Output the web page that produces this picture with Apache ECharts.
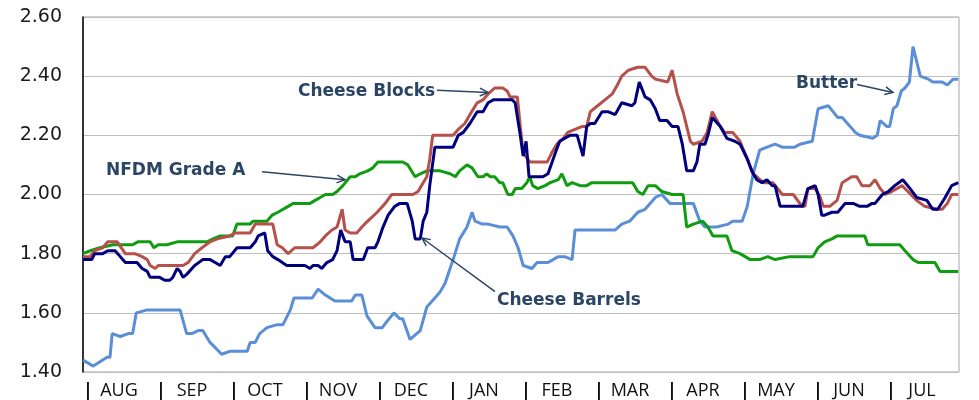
<!DOCTYPE html>
<html>
<head>
<meta charset="utf-8">
<script src="https://cdn.jsdelivr.net/npm/echarts@6/dist/echarts.min.js"></script>
<style>html,body{margin:0;padding:0;background:#fff}#c{width:979px;height:400px}</style>
</head>
<body>
<div id="c"></div>
<script>
// x = months elapsed since start of August (0..12)
const months = ['AUG','SEP','OCT','NOV','DEC','JAN','FEB','MAR','APR','MAY','JUN','JUL'];
const yTicks = [1.40, 1.60, 1.80, 2.00, 2.20, 2.40, 2.60];

const butter = [[0.00,1.44],[0.14,1.42],[0.33,1.45],[0.37,1.45],[0.40,1.53],[0.51,1.52],[0.62,1.53],[0.68,1.53],[0.73,1.60],[0.88,1.61],[1.33,1.61],[1.42,1.53],[1.49,1.53],[1.58,1.54],[1.64,1.54],[1.74,1.50],[1.90,1.46],[2.01,1.47],[2.25,1.47],[2.29,1.50],[2.36,1.50],[2.42,1.53],[2.52,1.55],[2.66,1.56],[2.74,1.56],[2.84,1.61],[2.89,1.65],[3.14,1.65],[3.22,1.68],[3.32,1.66],[3.45,1.64],[3.68,1.64],[3.73,1.66],[3.82,1.66],[3.89,1.59],[4.00,1.55],[4.10,1.55],[4.16,1.57],[4.26,1.60],[4.34,1.58],[4.38,1.58],[4.48,1.51],[4.62,1.54],[4.71,1.62],[4.82,1.65],[4.89,1.67],[4.96,1.70],[5.07,1.78],[5.16,1.85],[5.26,1.89],[5.33,1.94],[5.37,1.91],[5.47,1.90],[5.55,1.90],[5.71,1.89],[5.81,1.89],[5.89,1.86],[5.96,1.82],[6.03,1.76],[6.15,1.75],[6.22,1.77],[6.37,1.77],[6.51,1.79],[6.60,1.79],[6.70,1.78],[6.74,1.88],[7.01,1.88],[7.29,1.88],[7.38,1.90],[7.49,1.91],[7.60,1.94],[7.70,1.95],[7.84,1.99],[7.93,2.00],[8.04,1.97],[8.36,1.97],[8.45,1.91],[8.52,1.89],[8.68,1.89],[8.84,1.90],[8.90,1.91],[9.03,1.91],[9.10,1.96],[9.18,2.07],[9.27,2.15],[9.37,2.16],[9.48,2.17],[9.58,2.16],[9.75,2.16],[9.82,2.17],[9.99,2.18],[10.07,2.29],[10.21,2.30],[10.34,2.26],[10.40,2.26],[10.58,2.21],[10.64,2.20],[10.82,2.19],[10.88,2.20],[10.92,2.25],[11.01,2.23],[11.05,2.23],[11.10,2.29],[11.15,2.30],[11.21,2.35],[11.26,2.36],[11.32,2.38],[11.37,2.50],[11.42,2.45],[11.47,2.40],[11.58,2.39],[11.64,2.38],[11.77,2.38],[11.84,2.37],[11.92,2.39],[11.99,2.39]];

const nfdm = [[0.00,1.80],[0.10,1.81],[0.23,1.82],[0.41,1.83],[0.68,1.83],[0.75,1.84],[0.92,1.84],[0.97,1.82],[1.03,1.83],[1.15,1.83],[1.29,1.84],[1.70,1.84],[1.78,1.85],[1.88,1.86],[2.05,1.86],[2.11,1.90],[2.29,1.90],[2.33,1.91],[2.52,1.91],[2.59,1.93],[2.67,1.94],[2.81,1.96],[2.88,1.97],[3.11,1.97],[3.18,1.98],[3.25,1.99],[3.32,2.00],[3.42,2.00],[3.48,2.01],[3.56,2.03],[3.66,2.06],[3.73,2.06],[3.79,2.07],[3.90,2.08],[3.97,2.09],[4.04,2.11],[4.38,2.11],[4.45,2.10],[4.55,2.06],[4.62,2.07],[4.71,2.08],[4.89,2.08],[5.03,2.07],[5.10,2.06],[5.16,2.08],[5.26,2.10],[5.33,2.09],[5.41,2.06],[5.48,2.06],[5.53,2.07],[5.58,2.06],[5.64,2.06],[5.71,2.04],[5.75,2.04],[5.82,2.00],[5.88,2.00],[5.92,2.02],[6.01,2.02],[6.08,2.04],[6.12,2.06],[6.16,2.03],[6.23,2.02],[6.33,2.03],[6.40,2.04],[6.51,2.05],[6.56,2.07],[6.63,2.03],[6.70,2.04],[6.81,2.03],[6.90,2.03],[6.97,2.04],[7.53,2.04],[7.60,2.01],[7.67,2.00],[7.74,2.03],[7.84,2.03],[7.93,2.01],[8.07,2.00],[8.22,2.00],[8.27,1.89],[8.36,1.90],[8.49,1.91],[8.56,1.89],[8.63,1.86],[8.82,1.86],[8.89,1.81],[9.00,1.80],[9.14,1.78],[9.27,1.78],[9.38,1.79],[9.48,1.78],[9.68,1.79],[10.00,1.79],[10.07,1.82],[10.16,1.84],[10.26,1.85],[10.33,1.86],[10.71,1.86],[10.75,1.83],[11.19,1.83],[11.26,1.81],[11.37,1.78],[11.44,1.77],[11.67,1.77],[11.74,1.74],[11.99,1.74]];

const blocks = [[0.00,1.79],[0.10,1.79],[0.16,1.81],[0.27,1.82],[0.34,1.84],[0.47,1.84],[0.58,1.80],[0.71,1.80],[0.81,1.79],[0.88,1.78],[0.92,1.76],[0.99,1.75],[1.03,1.76],[1.08,1.76],[1.37,1.76],[1.44,1.77],[1.53,1.80],[1.63,1.82],[1.74,1.84],[1.84,1.85],[2.01,1.86],[2.08,1.87],[2.29,1.87],[2.36,1.90],[2.60,1.90],[2.66,1.83],[2.73,1.82],[2.81,1.80],[2.90,1.82],[3.15,1.82],[3.25,1.84],[3.32,1.86],[3.41,1.88],[3.48,1.89],[3.55,1.95],[3.59,1.88],[3.66,1.87],[3.75,1.87],[3.82,1.89],[3.90,1.91],[4.03,1.94],[4.14,1.97],[4.23,2.00],[4.52,2.00],[4.59,2.01],[4.66,2.04],[4.71,2.06],[4.75,2.12],[4.79,2.20],[5.07,2.20],[5.14,2.22],[5.23,2.24],[5.30,2.27],[5.40,2.31],[5.48,2.32],[5.55,2.34],[5.64,2.36],[5.75,2.36],[5.81,2.35],[5.85,2.33],[5.95,2.33],[5.99,2.23],[6.03,2.14],[6.12,2.11],[6.36,2.11],[6.42,2.14],[6.49,2.17],[6.58,2.19],[6.64,2.21],[6.84,2.23],[6.90,2.23],[6.95,2.28],[7.05,2.30],[7.15,2.32],[7.25,2.34],[7.32,2.37],[7.38,2.40],[7.47,2.42],[7.60,2.43],[7.70,2.43],[7.79,2.40],[7.84,2.39],[8.01,2.38],[8.07,2.42],[8.14,2.34],[8.22,2.28],[8.32,2.18],[8.36,2.17],[8.48,2.18],[8.55,2.21],[8.62,2.28],[8.73,2.23],[8.79,2.21],[8.90,2.21],[9.00,2.18],[9.10,2.12],[9.18,2.07],[9.23,2.06],[9.32,2.04],[9.45,2.04],[9.58,2.00],[9.73,2.00],[9.85,1.96],[9.89,1.96],[9.93,2.02],[10.03,2.02],[10.10,1.99],[10.14,1.96],[10.23,1.96],[10.33,1.98],[10.40,2.04],[10.53,2.06],[10.60,2.06],[10.67,2.03],[10.78,2.03],[10.85,2.05],[10.92,2.02],[10.99,2.00],[11.08,2.01],[11.22,2.03],[11.30,2.01],[11.42,1.98],[11.53,1.96],[11.70,1.95],[11.77,1.95],[11.84,1.97],[11.90,2.00],[11.99,2.00]];

const barrels = [[0.00,1.78],[0.12,1.78],[0.16,1.80],[0.27,1.80],[0.34,1.81],[0.44,1.81],[0.51,1.79],[0.58,1.77],[0.74,1.77],[0.81,1.75],[0.88,1.74],[0.92,1.72],[1.05,1.72],[1.12,1.71],[1.19,1.71],[1.23,1.72],[1.29,1.75],[1.33,1.74],[1.37,1.72],[1.42,1.73],[1.53,1.76],[1.64,1.78],[1.74,1.78],[1.81,1.77],[1.88,1.76],[1.95,1.79],[2.01,1.79],[2.11,1.82],[2.29,1.82],[2.36,1.84],[2.40,1.86],[2.49,1.87],[2.53,1.81],[2.60,1.79],[2.67,1.78],[2.79,1.76],[3.04,1.76],[3.11,1.75],[3.15,1.76],[3.22,1.76],[3.27,1.75],[3.34,1.77],[3.42,1.78],[3.48,1.81],[3.53,1.88],[3.59,1.84],[3.66,1.84],[3.70,1.78],[3.84,1.78],[3.90,1.82],[4.00,1.82],[4.04,1.84],[4.11,1.89],[4.18,1.93],[4.27,1.96],[4.34,1.97],[4.44,1.97],[4.51,1.91],[4.55,1.85],[4.62,1.85],[4.66,1.91],[4.71,1.94],[4.75,2.03],[4.82,2.16],[5.07,2.16],[5.14,2.20],[5.21,2.21],[5.30,2.24],[5.40,2.28],[5.48,2.28],[5.55,2.31],[5.62,2.32],[5.88,2.32],[5.92,2.31],[5.99,2.20],[6.03,2.13],[6.07,2.18],[6.11,2.06],[6.30,2.06],[6.37,2.07],[6.47,2.14],[6.53,2.18],[6.60,2.19],[6.67,2.20],[6.77,2.20],[6.85,2.13],[6.90,2.23],[6.95,2.24],[7.01,2.24],[7.11,2.28],[7.19,2.28],[7.29,2.27],[7.38,2.31],[7.52,2.30],[7.56,2.31],[7.62,2.38],[7.70,2.33],[7.77,2.32],[7.84,2.29],[7.90,2.25],[8.00,2.25],[8.07,2.23],[8.15,2.23],[8.21,2.17],[8.27,2.08],[8.36,2.08],[8.41,2.11],[8.45,2.17],[8.52,2.17],[8.56,2.20],[8.62,2.26],[8.73,2.23],[8.82,2.19],[8.93,2.18],[9.00,2.17],[9.10,2.12],[9.16,2.08],[9.23,2.05],[9.30,2.04],[9.37,2.05],[9.44,2.03],[9.48,2.03],[9.55,1.96],[9.86,1.96],[9.93,2.02],[10.03,2.03],[10.07,2.00],[10.12,1.93],[10.16,1.93],[10.26,1.94],[10.34,1.94],[10.44,1.97],[10.55,1.97],[10.64,1.96],[10.74,1.96],[10.81,1.97],[10.85,1.97],[10.95,2.00],[11.03,2.01],[11.12,2.03],[11.23,2.05],[11.33,2.02],[11.42,1.99],[11.56,1.98],[11.64,1.95],[11.71,1.95],[11.81,1.99],[11.90,2.03],[11.99,2.04]];

// annotations in data coordinates
const notes = [
  {text:'Cheese Blocks', at:[2.945,2.349], from:[4.849,2.352], to:[5.548,2.345]},
  {text:'NFDM Grade A', at:[0.315,2.080], from:[2.452,2.077], to:[3.589,2.050]},
  {text:'Cheese Barrels', at:[5.671,1.641], from:[5.644,1.672], to:[4.644,1.853]},
  {text:'Butter', at:[9.767,2.376], from:[10.603,2.372], to:[11.096,2.345]}
];

const chart = echarts.init(document.getElementById('c'), null, {renderer:'canvas'});
const mkLine = (name, data, color) => ({
  name, type:'line', data, xAxisIndex:0, yAxisIndex:0,
  showSymbol:false, symbol:'none', smooth:false,
  lineStyle:{color, width:3}, itemStyle:{color},
  animation:false
});

chart.setOption({
  animation:false,
  backgroundColor:'#fff',
  grid:{left:83, right:20, top:17, bottom:25, show:true, borderColor:'#a6a6a6', borderWidth:1},
  xAxis:[
    {type:'value', min:0, max:12, show:false},
    {type:'category', data:months, position:'bottom', offset:0, boundaryGap:true,
     axisLine:{show:false},
     axisTick:{show:false},
     axisLabel:{show:true, interval:0, margin:10, color:'#111',
       fontFamily:'"Open Sans"', fontSize:18,
       formatter: m => '{s||}{m|' + m + '}{e| }',
       rich:{
         s:{width:6, align:'left', fontFamily:'"Open Sans"', fontSize:18, fontWeight:'bold', color:'#111'},
         m:{width:60, align:'center', fontFamily:'"Open Sans"', fontSize:18, color:'#111'},
         e:{width:7, fontSize:18}
       }},
     splitLine:{show:false}}
  ],
  yAxis:{type:'value', min:yTicks[0], max:yTicks[yTicks.length-1], interval:0.2,
    axisLine:{show:true, lineStyle:{color:'#000', width:1.5}},
    axisTick:{show:false},
    axisLabel:{margin:21, color:'#1a1a1a', fontFamily:'"DejaVu Sans"', fontSize:19,
      formatter:v=>v.toFixed(2)},
    splitLine:{show:true, lineStyle:{color:'#bfbfbf', width:1}}
  },
  series:[
    mkLine('Butter', butter, '#5a8fd8'),
    mkLine('NFDM Grade A', nfdm, '#109c10'),
    mkLine('Cheese Blocks', blocks, '#b5504b'),
    mkLine('Cheese Barrels', barrels, '#00007f')
  ]
});

const ink = '#2b4565';
const g = [];
notes.forEach(n => {
  const p = chart.convertToPixel({gridIndex:0}, n.at);
  const a = chart.convertToPixel({gridIndex:0}, n.from);
  const b = chart.convertToPixel({gridIndex:0}, n.to);
  g.push({type:'text', style:{text:n.text, x:p[0], y:p[1], align:'left', verticalAlign:'middle',
    fill:ink, font:'bold 17px "DejaVu Sans"'}, z:100});
  g.push({type:'line', shape:{x1:a[0], y1:a[1], x2:b[0], y2:b[1]}, style:{stroke:ink, lineWidth:1.5}, z:100});
  const ang = Math.atan2(b[1]-a[1], b[0]-a[0]);
  const L = 9, s = 0.45;
  g.push({type:'polyline', shape:{points:[
    [b[0]-L*Math.cos(ang-s), b[1]-L*Math.sin(ang-s)], [b[0], b[1]],
    [b[0]-L*Math.cos(ang+s), b[1]-L*Math.sin(ang+s)]]},
    style:{stroke:ink, lineWidth:1.5, fill:null}, z:100});
});
chart.setOption({graphic:g});
</script>
</body>
</html>
